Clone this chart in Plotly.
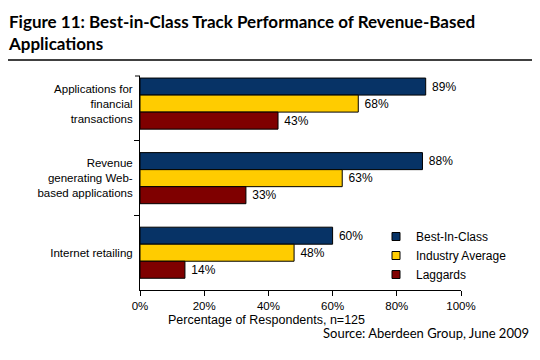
import plotly.graph_objects as go

categories = ["Applications for<br>financial<br>transactions",
              "Revenue<br>generating Web-<br>based applications",
              "Internet retailing"]
series_names = ["Best-In-Class", "Industry Average", "Laggards"]
best_in_class = [89, 88, 60]
industry_average = [68, 63, 48]
laggards = [43, 33, 14]
x_ticks = [0, 20, 40, 60, 80, 100]
x_tick_labels = ["0%", "20%", "40%", "60%", "80%", "100%"]
colors = ["#073366", "#FFCC00", "#7F0000"]

W, H = 540, 360
OFF = 8  # page body margin offset
L, R, T, B = 140 - OFF, 461 - OFF, 76 - OFF, 290 - OFF

fig = go.Figure()
for name, vals, col in zip(series_names, [best_in_class, industry_average, laggards], colors):
    fig.add_trace(go.Bar(
        y=categories, x=vals, orientation="h", name=name,
        marker=dict(color=col, line=dict(color="black", width=1)),
        text=[f" {v}%" for v in vals], textposition="outside",
        textfont=dict(family="Liberation Sans, Arial", size=12, color="black"),
        cliponaxis=False, showlegend=False,
    ))
for name, col in zip(series_names, colors):
    fig.add_trace(go.Scatter(
        x=[None], y=[None], mode="markers", name=name,
        marker=dict(symbol="square", size=8, color=col, line=dict(color="black", width=1)),
    ))

def px_x(px):
    return (px - OFF - L) / (R - L)

def px_y(py):
    return (B - (py - OFF)) / (B - T)

fig.update_layout(
    width=W, height=H,
    margin=dict(l=L, r=W - R, t=T, b=H - B, autoexpand=False),
    paper_bgcolor="white", plot_bgcolor="white",
    barmode="group", bargap=0.315, bargroupgap=0,
    font=dict(family="Liberation Sans, Arial", size=11, color="black"),
    xaxis=dict(range=[0, 100], tickvals=x_ticks, ticktext=x_tick_labels,
               showgrid=False, zeroline=False, showline=True, linecolor="black",
               linewidth=1, ticks="outside", ticklen=5, tickcolor="black",
               tickfont=dict(size=11.5)),
    yaxis=dict(categoryorder="array", categoryarray=categories,
               range=[2.5, -0.37], showgrid=False, zeroline=False,
               showline=True, linecolor="black", linewidth=1,
               ticks="outside", ticklen=5, tickcolor="black", tickson="boundaries",
               ticklabelstandoff=4, tickfont=dict(size=11.5)),
    legend=dict(x=px_x(376), y=px_y(222), xanchor="left", yanchor="top",
                font=dict(size=12), traceorder="normal", bgcolor="rgba(0,0,0,0)",
                itemwidth=30, tracegroupgap=0),
    showlegend=True,
)

fig.add_shape(type="line", xref="paper", yref="paper",
              x0=px_x(135), x1=px_x(140), y0=px_y(76), y1=px_y(76),
              line=dict(color="black", width=1))
fig.add_shape(type="line", xref="paper", yref="paper",
              x0=px_x(0), x1=px_x(532), y0=px_y(60), y1=px_y(60),
              line=dict(color="black", width=1.5))

fig.add_annotation(text="<b>Figure 11: Best-in-Class Track Performance of Revenue-Based<br>Applications</b>",
                   xref="paper", yref="paper", x=px_x(6), y=px_y(9),
                   xanchor="left", yanchor="top", align="left", showarrow=False,
                   font=dict(family="Lato", size=17, color="black"))
fig.add_annotation(text="Percentage of Respondents, n=125",
                   xref="paper", yref="paper", x=px_x(266), y=px_y(320),
                   xanchor="center", yanchor="middle", showarrow=False,
                   font=dict(size=12.5))
fig.add_annotation(text="Source: Aberdeen Group, June 2009",
                   xref="paper", yref="paper", x=px_x(531), y=px_y(333),
                   xanchor="right", yanchor="middle", showarrow=False,
                   font=dict(family="Lato", size=13))

fig.write_html("out.html")
